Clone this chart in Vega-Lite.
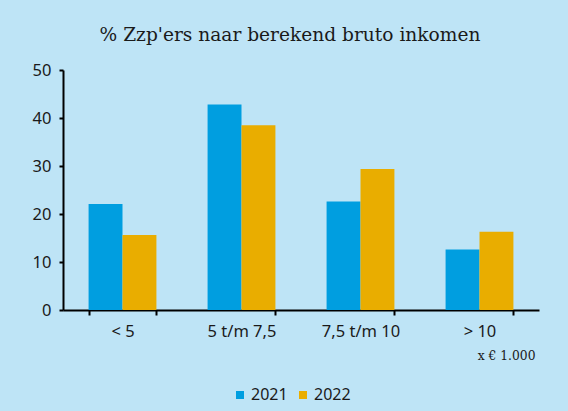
{
  "$schema": "https://vega.github.io/schema/vega-lite/v6.json",
  "width": 476,
  "height": 240,
  "autosize": {"type": "none"},
  "padding": {"left": 63, "top": 70, "right": 29, "bottom": 101},
  "background": "#BEE4F6",
  "title": {
    "text": "% Zzp'ers naar berekend bruto inkomen",
    "font": "DejaVu Serif",
    "fontSize": 18.6,
    "fontWeight": "normal",
    "color": "#1a1a1a",
    "anchor": "middle",
    "dx": -11,
    "offset": 17
  },
  "data": {
    "values": [
      {"cat": "< 5", "year": "2021", "value": 22.1},
      {"cat": "< 5", "year": "2022", "value": 15.6},
      {"cat": "5 t/m 7,5", "year": "2021", "value": 42.8},
      {"cat": "5 t/m 7,5", "year": "2022", "value": 38.5},
      {"cat": "7,5 t/m 10", "year": "2021", "value": 22.6},
      {"cat": "7,5 t/m 10", "year": "2022", "value": 29.4},
      {"cat": "> 10", "year": "2021", "value": 12.6},
      {"cat": "> 10", "year": "2022", "value": 16.3}
    ]
  },
  "mark": {"type": "bar"},
  "encoding": {
    "x": {
      "field": "cat",
      "type": "nominal",
      "sort": ["< 5", "5 t/m 7,5", "7,5 t/m 10", "> 10"],
      "scale": {"paddingInner": 0.43, "paddingOuter": 0.215},
      "axis": {
        "title": "x € 1.000",
        "titleFont": "DejaVu Serif",
        "titleFontSize": 12.3,
        "titleFontWeight": "normal",
        "titleColor": "#1a1a1a",
        "titleAnchor": "end",
        "titleAlign": "right",
        "titlePadding": 10,
        "titleX": 472,
        "labelAngle": 0,
        "labelFont": "Noto Sans",
        "labelFontSize": 16.5,
        "labelColor": "#1a1a1a",
        "labelPadding": 8,
        "domainColor": "#000000",
        "domainWidth": 2,
        "tickColor": "#000000",
        "tickWidth": 2,
        "tickSize": 5,
        "tickBand": "extent"
      }
    },
    "xOffset": {"field": "year", "type": "nominal", "scale": {"paddingInner": 0, "paddingOuter": 0}},
    "y": {
      "field": "value",
      "type": "quantitative",
      "scale": {"domain": [0, 50]},
      "axis": {
        "title": null,
        "values": [0, 10, 20, 30, 40, 50],
        "grid": false,
        "labelFont": "Noto Sans",
        "labelFontSize": 16.5,
        "labelColor": "#1a1a1a",
        "labelPadding": 8,
        "domainColor": "#000000",
        "domainWidth": 2,
        "tickColor": "#000000",
        "tickWidth": 2,
        "tickSize": 4
      }
    },
    "color": {
      "field": "year",
      "type": "nominal",
      "scale": {"domain": ["2021", "2022"], "range": ["#009EE0", "#E9AD00"]},
      "legend": {
        "title": null,
        "orient": "none",
        "legendX": 169,
        "legendY": 317,
        "direction": "horizontal",
        "symbolType": "square",
        "symbolSize": 64,
        "symbolStrokeWidth": 0,
        "labelFont": "Noto Sans",
        "labelFontSize": 16,
        "labelColor": "#1a1a1a",
        "labelOffset": 3,
        "columnPadding": 7
      }
    }
  },
  "config": {
    "view": {"stroke": null}
  }
}
